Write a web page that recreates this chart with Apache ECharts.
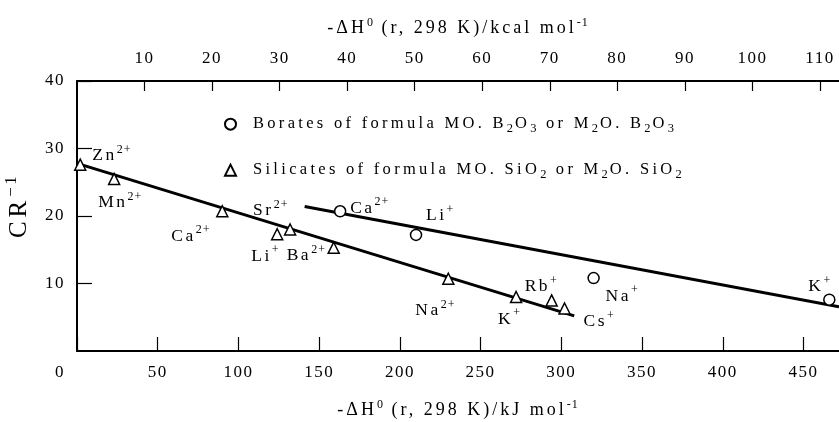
<!DOCTYPE html>
<html><head><meta charset="utf-8">
<script src="https://cdn.jsdelivr.net/npm/echarts@6/dist/echarts.min.js"></script>
<style>html,body{margin:0;padding:0;background:#fff}#c{width:839px;height:422px}</style>
</head><body><div id="c"></div>
<script>
// ---- data ----
const silicateIons    = ['Zn', 'Mn', 'Ca', 'Li', 'Sr', 'Ba', 'Na', 'K', 'Rb', 'Cs'];
const silicateCharges = ['2+', '2+', '2+', '+', '2+', '2+', '2+', '+', '+', '+'];
const silicateDH      = [2, 23, 90, 124, 132, 159, 230, 272, 294, 302];
const silicateCR      = [27.6, 25.5, 20.7, 17.3, 18.0, 15.3, 10.7, 8.0, 7.5, 6.3];
const borateIons      = ['Ca', 'Li', 'Na', 'K'];
const borateCharges   = ['2+', '+', '+', '+'];
const borateDH        = [163, 210, 320, 466];
const borateCR        = [20.7, 17.2, 10.8, 7.6];
const silicateFit     = [[0, 27.8], [308, 5.2]];
const borateFit       = [[141, 21.4], [472, 6.55]];
const xMaxKJ = 472;
const kJperKcal = 4.184;
const yTicks = [0, 10, 20, 30, 40];

// ---- label placement (styles) ----
const silOffsets = [[12,-9],[-16,24],[-51,25],[-26,22],[-37,-19],[-47,8],[-33,32],[-18,22],[-27,-14],[19,13]];
const borOffsets = [[10,-3],[10,-19],[12,18],[-21,-13]];

// letter spacing (tracking) by font size, to mimic the spaced typesetting
const LSMAP = { '17': 1.5, '16.5': 3.3, '17.5': 2.5, '18': 3, '25': 4, '16.8': 2.5, '12': 1, '12.5': 2 };
function spacingFor(font) {
  const m = /([\d.]+)px/.exec(font || '');
  const s = m ? String(parseFloat(m[1])) : '';
  return (LSMAP[s] !== undefined ? LSMAP[s] : 1) + 'px';
}
(function () {
  const P = CanvasRenderingContext2D.prototype;
  if (!('letterSpacing' in P)) return;
  const of = P.fillText, os = P.strokeText, om = P.measureText;
  P.fillText = function (t, x, y, w) { this.letterSpacing = spacingFor(this.font); return w === undefined ? of.call(this, t, x, y) : of.call(this, t, x, y, w); };
  P.strokeText = function (t, x, y, w) { this.letterSpacing = spacingFor(this.font); return w === undefined ? os.call(this, t, x, y) : os.call(this, t, x, y, w); };
  P.measureText = function (t) { this.letterSpacing = spacingFor(this.font); return om.call(this, t); };
})();

const FONT = 'Liberation Serif';
const supRich = { sup: { fontSize: 12, fontFamily: FONT, color: '#000', padding: [0, 0, 12, 0] },
                  sub: { fontSize: 12.5, fontFamily: FONT, color: '#000', padding: [10, 0, 0, 0] },
                  bsup: { fontSize: 16.8, fontFamily: FONT, color: '#000', padding: [0, 0, 16, 0] } };

function mkData(xs, ys, ions, ch, offs) {
  return xs.map((x, i) => ({
    value: [x, ys[i]],
    label: { formatter: ions[i] + '{sup|' + ch[i] + '}', offset: offs[i] }
  }));
}
const ptLabel = { show: true, position: 'inside', align: 'left', verticalAlign: 'middle',
  color: '#000', fontSize: 17.5, fontFamily: FONT, rich: supRich };

const legendNames = {
  'Borates': 'Borates of formula MO. B{sub|2}O{sub|3} or M{sub|2}O. B{sub|2}O{sub|3}',
  'Silicates': 'Silicates of formula MO. SiO{sub|2} or M{sub|2}O. SiO{sub|2}'
};
const legendCommon = {
  orient: 'vertical', itemWidth: 11, itemHeight: 11, selectedMode: false, padding: 0,
  formatter: n => legendNames[n],
  textStyle: { fontSize: 16.5, fontFamily: FONT, color: '#000', padding: [0, 0, 0, 12], rich: supRich }
};

const titleStyle = { color: '#000', fontSize: 18, fontFamily: FONT, rich: supRich };
const tickLabel = { color: '#000', fontSize: 17, fontFamily: FONT };

const option = {
  animation: false,
  backgroundColor: '#fff',
  textStyle: { fontFamily: FONT },
  grid: { left: 77, top: 81, width: 762, height: 270, show: false, containLabel: false, outerBoundsMode: 'none' },
  legend: [
    Object.assign({ data: ['Borates'], left: 224, top: 114 }, legendCommon),
    Object.assign({ data: ['Silicates'], left: 224, top: 160 }, legendCommon)
  ],
  xAxis: [
    { type: 'value', position: 'bottom', min: 0, max: xMaxKJ, interval: 50,
      axisLine: { lineStyle: { color: '#000', width: 2 } },
      axisTick: { inside: true, length: 14, lineStyle: { color: '#000', width: 1.2 } },
      splitLine: { show: false },
      axisLabel: Object.assign({}, tickLabel, { margin: 12, showMaxLabel: false,
        formatter: v => v === 0 ? '{z|0}' : String(v),
        rich: { z: { fontSize: 17, fontFamily: FONT, color: '#000', padding: [0, 34, 0, 0] } } }),
      name: '-ΔH{sup|0} (r, 298 K)/kJ mol{sup|-1}', nameLocation: 'middle', nameGap: 47,
      nameTextStyle: titleStyle },
    { type: 'value', position: 'top', min: 0, max: xMaxKJ / kJperKcal, interval: 10,
      axisLine: { lineStyle: { color: '#000', width: 2 } },
      axisTick: { inside: true, length: 10, lineStyle: { color: '#000', width: 1.2 } },
      splitLine: { show: false },
      axisLabel: Object.assign({}, tickLabel, { margin: 13, showMinLabel: false, showMaxLabel: false }),
      name: '-ΔH{sup|0} (r, 298 K)/kcal mol{sup|-1}', nameLocation: 'middle', nameGap: 40,
      nameTextStyle: titleStyle }
  ],
  yAxis: { type: 'value', min: yTicks[0], max: yTicks[yTicks.length - 1], interval: 10,
    axisLine: { show: true, lineStyle: { color: '#000', width: 2 } },
    axisTick: { show: true, inside: true, length: 15, lineStyle: { color: '#000', width: 1.2 } },
    splitLine: { show: false },
    axisLabel: Object.assign({}, tickLabel, { margin: 12, showMinLabel: false }),
    name: 'CR{bsup|−1}', nameLocation: 'middle', nameGap: 36, nameRotate: 90,
    nameTextStyle: { color: '#000', fontSize: 25, fontFamily: FONT, padding: [0, 0, 0, 20], rich: supRich } },
  series: [
    { type: 'line', data: silicateFit, symbol: 'none', lineStyle: { color: '#000', width: 3 }, silent: true, z: 1 },
    { type: 'line', data: borateFit, symbol: 'none', lineStyle: { color: '#000', width: 3 }, silent: true, z: 1 },
    { name: 'Silicates', type: 'scatter', symbol: 'triangle', symbolSize: 11, z: 3,
      itemStyle: { color: '#fff', borderColor: '#000', borderWidth: 1.5, opacity: 1 },
      label: ptLabel, data: mkData(silicateDH, silicateCR, silicateIons, silicateCharges, silOffsets) },
    { name: 'Borates', type: 'scatter', symbol: 'circle', symbolSize: 11, z: 3,
      itemStyle: { color: '#fff', borderColor: '#000', borderWidth: 1.5, opacity: 1 },
      label: ptLabel, data: mkData(borateDH, borateCR, borateIons, borateCharges, borOffsets) }
  ]
};

const chart = echarts.init(document.getElementById('c'), null, { renderer: 'canvas', devicePixelRatio: 1 });
chart.setOption(option);
</script></body></html>
